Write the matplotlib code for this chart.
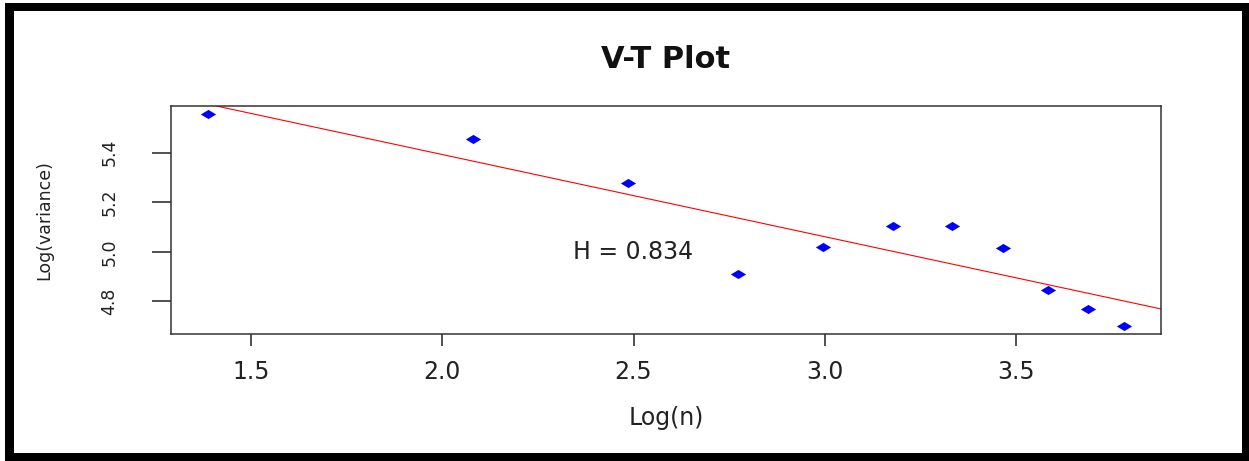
import numpy as np
import matplotlib
matplotlib.use("Agg")
import matplotlib.pyplot as plt
from matplotlib.patches import Rectangle
from matplotlib.path import Path

# Variance-time data
log_n = [1.386, 2.079, 2.485, 2.773, 2.996, 3.178, 3.332, 3.466, 3.584, 3.689, 3.784]
log_var = [5.554, 5.453, 5.278, 4.910, 5.020, 5.103, 5.105, 5.014, 4.846, 4.770, 4.703]
x_ticks = [1.5, 2.0, 2.5, 3.0, 3.5]
y_ticks = [4.8, 5.0, 5.2, 5.4]
hurst_label = "H = 0.834"

plt.rcParams['font.family'] = ['DejaVu Sans']

W, H = 1249, 461
fig = plt.figure(figsize=(W / 100, H / 100), dpi=100)
fig.patch.set_facecolor('white')

# thick black frame around the picture
fig.patches.append(Rectangle((5 / W, 0), 1 - 5 / W, 1 - 3 / H, transform=fig.transFigure,
                             facecolor='black', edgecolor='none', zorder=-2))
fig.patches.append(Rectangle((14 / W, 8 / H), (1242 - 14) / W, (450 - 8) / H,
                             transform=fig.transFigure, facecolor='white',
                             edgecolor='none', zorder=-1))

ax = fig.add_axes([171 / W, (461 - 334) / H, (1161 - 171) / W, (334 - 106) / H])
ax.set_facecolor('white')

# wide diamond marker (picture is stretched sideways)
diamond = Path([(-1, 0), (0, 0.6), (1, 0), (0, -0.6), (-1, 0)],
               [Path.MOVETO, Path.LINETO, Path.LINETO, Path.LINETO, Path.CLOSEPOLY])
ax.plot(log_n, log_var, linestyle='none', marker=diamond, markersize=11,
        color='blue', markeredgewidth=0)
ax.margins(x=0.04, y=0.04)

# least-squares line, like abline(lm(...)) in R
slope, intercept = np.polyfit(log_n, log_var, 1)
xm = float(np.mean(log_n))
ax.axline((xm, slope * xm + intercept), slope=slope, color='red', linewidth=0.8)

ax.text(2.5, 5.0, hurst_label, ha='center', va='center', fontsize=17, color='#222222')

ax.set_xticks(x_ticks)
ax.set_xticklabels([f"{t:.1f}" for t in x_ticks])
ax.set_yticks(y_ticks)
ax.set_yticklabels([f"{t:.1f}" for t in y_ticks])
ax.tick_params(axis='x', length=8.6, width=1.1, pad=10, labelsize=17,
               colors='#222222')
ax.tick_params(axis='y', length=13.7, width=1.1, pad=24, labelsize=12.5,
               labelrotation=90, colors='#222222')
for lab in ax.get_yticklabels():
    lab.set_va('center')

for s in ax.spines.values():
    s.set_linewidth(1.1)
    s.set_color('#333333')

ax.set_title('V-T Plot', fontsize=22, fontweight='bold', pad=27, color='#111111')
ax.set_xlabel('Log(n)', fontsize=17, color='#222222', va='center')
ax.xaxis.set_label_coords(0.5, -(418 - 334) / 228)
ax.set_ylabel('Log(variance)', fontsize=12.5, color='#222222', va='center')
ax.yaxis.set_label_coords((44 - 171) / 990, 0.5)

fig.savefig('out.png', dpi=100, facecolor='white')
